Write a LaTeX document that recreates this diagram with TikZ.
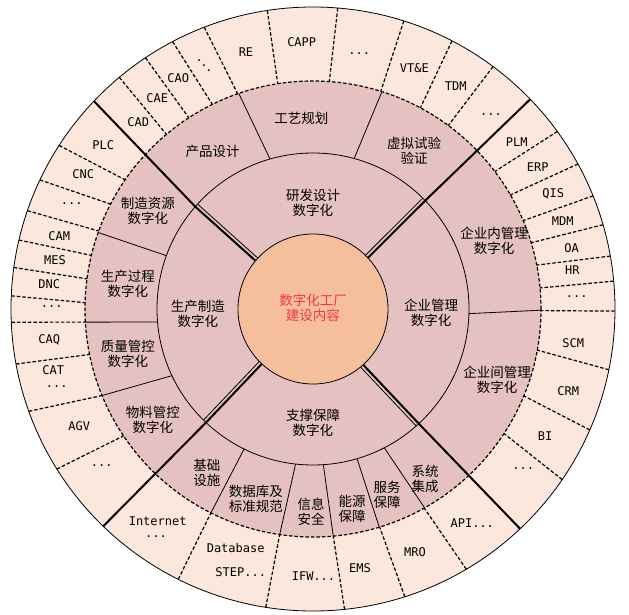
\documentclass[tikz,border=0pt]{standalone}
\usepackage{fontspec}
\setmainfont{Noto Sans CJK SC}
\newfontfamily\monofont{DejaVu Sans Mono}
\usepackage{tikz}
\newcommand{\cnfont}{\fontsize{13.5}{15}\selectfont}
\newcommand{\ltfont}{\monofont\fontsize{12}{13}\selectfont}
\definecolor{outerc}{HTML}{FBE7DB}
\definecolor{ringc}{HTML}{E6C1C2}
\definecolor{corec}{HTML}{F5BF9E}
\definecolor{redtxt}{HTML}{EE3B3B}
\tikzset{
	segline/.style={line width=1.2pt, dash pattern=on 3.5pt off 2pt},
	divline/.style={line width=0.8pt},
	mainline/.style={line width=2pt},
	cn/.style={font=\cnfont, align=center, inner sep=0pt},
	lt/.style={font=\ltfont, inner sep=0pt},
}

\begin{document}
\begin{tikzpicture}[x=1pt, y=1pt]
			%%%%% START %%%%%
			\useasboundingbox (-313, -305) rectangle (316, 309);
			
			\fill[outerc] (0, 0) circle (302);
			\draw[line width=0.8pt] (0, 0) circle (302);
			\fill[ringc] (0, 0) circle (228);
			
			%% outer band, top
			\draw[segline] (129.9:302) -- (130:228);
			\draw[segline] (123.7:302) -- (123:228);
			\draw[segline] (117.7:302) -- (116.2:228);
			\draw[segline] (111.1:302) -- (109.3:228);
			\draw[segline] (98.7:302) -- (98.9:228);
			\draw[segline] (85.3:302) -- (85.9:228);
			\draw[segline] (72.5:302) -- (72.7:228);
			\draw[segline] (62.6:302) -- (61.9:228);
			\draw[segline] (53.4:302) -- (53.6:228);
			
			%% outer band, right
			\draw[segline] (36:302) -- (37.1:228);
			\draw[segline] (28.7:302) -- (30:228);
			\draw[segline] (22:302) -- (22.8:228);
			\draw[segline] (16.2:302) -- (16.9:228);
			\draw[segline] (10.1:302) -- (11.1:228);
			\draw[segline] (5.3:302) -- (5.3:228);
			\draw[segline] (-0.4:302) -- (-0.4:228);
			\draw[segline] (-11.6:302) -- (-10.4:228);
			\draw[segline] (-23.6:302) -- (-22.4:228);
			\draw[segline] (-34.4:302) -- (-33.1:228);
			
			%% outer band, bottom
			\draw[segline] (-59.5:302) -- (-60.8:228);
			\draw[segline] (-72.3:302) -- (-73:228);
			\draw[segline] (-84:302) -- (-84.9:228);
			\draw[segline] (-99:302) -- (-98.4:228);
			\draw[segline] (-116.5:302) -- (-116.6:228);
			
			%% outer band, left
			\draw[segline] (147.2:302) -- (145.5:228);
			\draw[segline] (154.7:302) -- (152.6:228);
			\draw[segline] (161:302) -- (160:228);
			\draw[segline] (166.8:302) -- (166.4:228);
			\draw[segline] (172.1:302) -- (172.4:228);
			\draw[segline] (177.5:302) -- (178.4:228);
			\draw[segline] (182.5:302) -- (183.3:228);
			\draw[segline] (190.5:302) -- (191.5:228);
			\draw[segline] (199.8:302) -- (202.3:228);
			\draw[segline] (212:302) -- (213.8:228);
			
			\draw[segline] (0, 0) circle (228);
			\draw[divline] (0, 0) circle (156);
			
			%% middle ring
			\draw[divline] (109:228) -- (106:156);
			\draw[divline] (72.4:228) -- (74.7:156);
			\draw[divline] (-0.3:228) -- (-1.7:156);
			\draw[divline] (160.4:228) -- (160:156);
			\draw[divline] (183.3:228) -- (184.8:156);
			\draw[divline] (202.3:228) -- (205.3:156);
			\draw[divline] (243.4:228) -- (243.8:156);
			\draw[divline] (261.6:228) -- (263.6:156);
			\draw[divline] (275.1:228) -- (273.8:156);
			\draw[divline] (286.9:228) -- (286.4:156);
			\draw[divline] (299.3:228) -- (297.2:156);
			
			%% quadrant borders
			\draw[mainline] (136.5:302) -- (139:156) -- (140:75);
			\draw[divline, shift={(45:3.5)}] (139:156) -- (140:75);
			\draw[mainline] (44:302) -- (44:156) -- (43:75);
			\draw[divline, shift={(135:3.5)}] (44:156) -- (43:75);
			\draw[mainline] (226:302) -- (226.7:156) -- (227:75);
			\draw[divline, shift={(135:3.5)}] (226.7:156) -- (227:75);
			\draw[mainline] (-46.7:302) -- (-47.3:156) -- (-48:75);
			\draw[divline, shift={(225:3.5)}] (-47.3:156) -- (-48:75);
			
			\draw[fill=corec, line width=0.8pt] (0, 0) circle (75);
			\node[cn, text=redtxt] (core) at (0, 1) {数字化工厂\\建设内容};
			
			\node[cn] (yanfa) at (0, 106.5) {研发设计\\数字化};
			\node[cn] (qiye) at (118, -3.5) {企业管理\\数字化};
			\node[cn] (shengchan) at (-115, -5) {生产制造\\数字化};
			\node[cn] (zhicheng) at (0, -113.5) {支撑保障\\数字化};
			
			\node[cn] (chanpin) at (-100.3, 157.3) {产品设计};
			\node[cn] (gongyi) at (-11.5, 190.7) {工艺规划};
			\node[cn] (xuni) at (101, 158) {虚拟试验\\验证};
			\node[cn] (qiyenei) at (181, 68) {企业内管理\\数字化};
			\node[cn] (qiyejian) at (184, -70.5) {企业间管理\\数字化};
			\node[cn] (ziyuan) at (-165, 98) {制造资源\\数字化};
			\node[cn] (guocheng) at (-185, 25) {生产过程\\数字化};
			\node[cn] (zhiliang) at (-185, -45) {质量管控\\数字化};
			\node[cn] (wuliao) at (-160, -110.5) {物料管控\\数字化};
			\node[cn] (jichu) at (-106, -163.5) {基础\\设施};
			\node[cn] (shujuku) at (-57, -190) {数据库及\\标准规范};
			\node[cn] (xinxi) at (-2, -203) {信息\\安全};
			\node[cn] (nengyuan) at (39, -200) {能源\\保障};
			\node[cn] (fuwu) at (74, -186) {服务\\保障};
			\node[cn] (xitong) at (112, -170) {系统\\集成};
			
			\node[lt] (cad) at (-174.7, 187.3) {CAD};
			\node[lt] (cae) at (-155.7, 210.7) {CAE};
			\node[lt] (cao) at (-134.7, 230.7) {CAO};
			\node[lt, rotate=-48] (dotsA) at (-109, 243.3) {...};
			\node[lt] (re) at (-67, 257.3) {RE};
			\node[lt] (capp) at (-11.3, 267.3) {CAPP};
			\node[lt] (dotsB) at (46.3, 255.7) {...};
			\node[lt] (vte) at (101.3, 240.7) {VT\&E};
			\node[lt] (tdm) at (142.7, 223) {TDM};
			\node[lt] (dotsC) at (178, 194) {...};
			
			\node[lt] (plm) at (203.7, 167.3) {PLM};
			\node[lt] (erp) at (224.7, 142.3) {ERP};
			\node[lt] (qis) at (240.3, 114.7) {QIS};
			\node[lt] (mdm) at (249.7, 88) {MDM};
			\node[lt] (oa) at (258.7, 60.7) {OA};
			\node[lt] (hr) at (259.3, 39) {HR};
			\node[lt] (dotsD) at (263.7, 12.3) {...};
			\node[lt] (scm) at (260.3, -34.3) {SCM};
			\node[lt] (crm) at (255.3, -81.7) {CRM};
			\node[lt] (bi) at (232, -127) {BI};
			\node[lt] (dotsE) at (210.3, -159.3) {...};
			
			\node[lt] (api) at (159.3, -214.3) {API...};
			\node[lt] (mro) at (102, -242.7) {MRO};
			\node[lt] (ems) at (47, -259.3) {EMS};
			\node[lt] (ifw) at (0.5, -267) {IFW...};
			\node[lt] (database) at (-77.3, -239.3) {Database};
			\node[lt] (step) at (-72.3, -262.7) {STEP...};
			\node[lt] (internet) at (-155.3, -212.7) {Internet};
			\node[lt] (dotsF) at (-157, -228) {...};
			
			\node[lt] (dotsG) at (-211.3, -157) {...};
			\node[lt] (agv) at (-233.7, -117) {AGV};
			\node[lt] (cat) at (-259.7, -61) {CAT};
			\node[lt] (dotsH) at (-256.3, -78) {...};
			\node[lt] (caq) at (-263.7, -31) {CAQ};
			\node[lt] (dotsI) at (-261.3, 2.3) {...};
			\node[lt] (dnc) at (-263.7, 25) {DNC};
			\node[lt] (mes) at (-258, 49) {MES};
			\node[lt] (cam) at (-253.7, 73) {CAM};
			\node[lt] (dotsJ) at (-241.3, 105) {...};
			\node[lt] (cnc) at (-229.7, 134.7) {CNC};
			\node[lt] (plc) at (-209.7, 164) {PLC};
			%%%%% END %%%%%
\end{tikzpicture}
\end{document}
